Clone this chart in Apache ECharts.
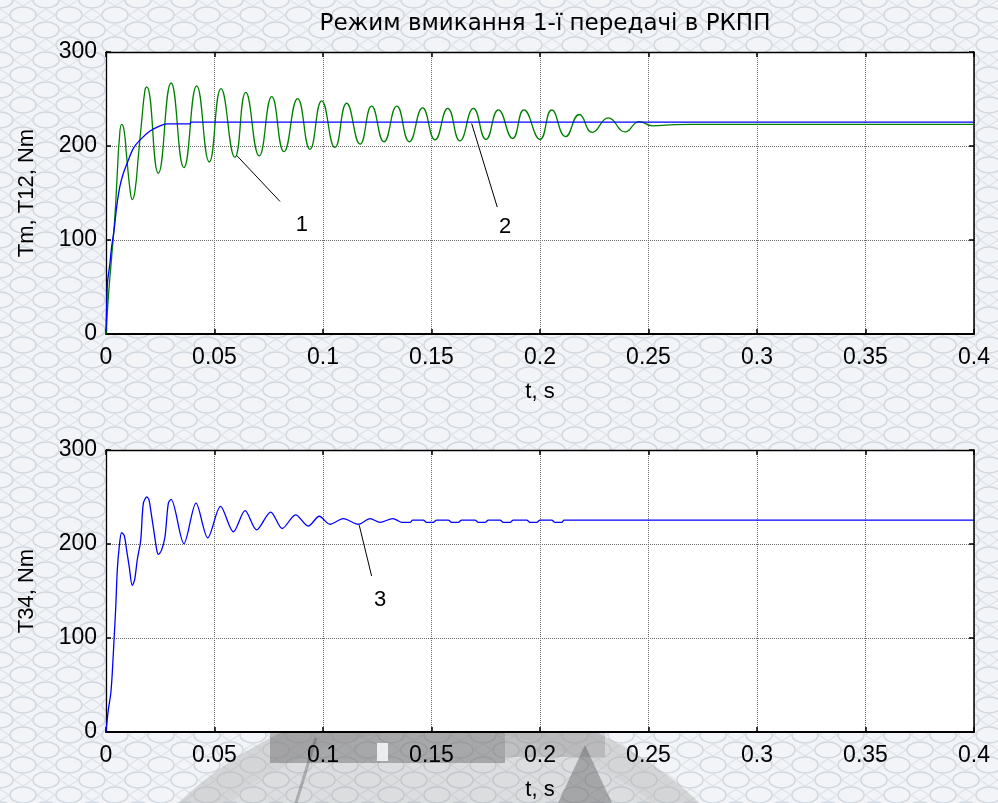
<!DOCTYPE html>
<html>
<head>
<meta charset="utf-8">
<title>Режим вмикання 1-ї передачі в РКПП</title>
<script src="https://cdn.jsdelivr.net/npm/echarts/dist/echarts.min.js"></script>
<style>
  html, body { margin: 0; padding: 0; background: #eef1f4; }
  #chart { width: 998px; height: 803px; }
</style>
</head>
<body>
<div id="chart"></div>
<script>
// Engine torque Tm (curve 1), shaft torque T12 (curve 2), shaft torque T34 (curve 3); time in s, torque in N·m
const tm = [
  [0, 3], [0.0004, 35], [0.0007, 55], [0.0018, 75], [0.0026, 93], [0.0037, 110],
  [0.0049, 135], [0.0064, 157], [0.0080, 171], [0.0103, 185], [0.0126, 197.5],
  [0.0157, 206.5], [0.0203, 216], [0.0249, 221.5], [0.0280, 223.5], [0.0387, 223.5],
  [0.0392, 225.5], [0.4, 225.5]
];

const t12 = [
  [0, 0], [0.0011, 40], [0.0026, 82], [0.0041, 125], [0.0052, 171], [0.0061, 206],
  [0.0072, 223], [0.0083, 217], [0.0095, 189], [0.0111, 153], [0.0121, 143],
  [0.0134, 153], [0.0149, 189], [0.0165, 228], [0.0180, 260], [0.0188, 263],
  [0.0241, 171], [0.0300, 267], [0.0359, 177], [0.0418, 264], [0.0476, 183],
  [0.0530, 261], [0.0594, 188], [0.0644, 257], [0.0706, 189.5], [0.0764, 252.5],
  [0.0820, 194], [0.0883, 250.5], [0.0940, 196.5], [0.0994, 248], [0.1055, 198.5],
  [0.1109, 245.5], [0.1171, 202], [0.1224, 242.5], [0.1281, 204.5], [0.1340, 242.5],
  [0.1398, 204.5], [0.1459, 240.5], [0.1516, 206.5], [0.1575, 240], [0.1631, 205.5],
  [0.1693, 240], [0.1751, 207], [0.1808, 238.5], [0.1874, 208], [0.1926, 238.5],
  [0.2000, 207], [0.2054, 238.5], [0.2118, 210], [0.2181, 233.5], [0.2241, 214.5],
  [0.2315, 230], [0.2392, 215], [0.2458, 226], [0.2519, 221.5], [0.2600, 222.5],
  [0.2700, 223], [0.4, 223]
];

const t34 = [
  [0, 0.5], [0.0011, 24], [0.0022, 41], [0.0029, 63], [0.0037, 98], [0.0045, 133],
  [0.0052, 172], [0.0061, 197], [0.0072, 212], [0.0084, 209], [0.0095, 193.5],
  [0.0107, 176], [0.0121, 156], [0.0132, 162], [0.0144, 183], [0.0160, 204],
  [0.0172, 243], [0.0188, 250], [0.0198, 247], [0.0206, 236], [0.0218, 218],
  [0.0234, 193.5], [0.0241, 189], [0.0256, 193.5], [0.0272, 208], [0.0287, 243],
  [0.0300, 247.5], [0.0359, 200.5], [0.0415, 243.5], [0.0469, 206.5], [0.0528, 240],
  [0.0587, 213], [0.0641, 235.5], [0.0694, 215], [0.0759, 234], [0.0812, 216.5],
  [0.0874, 231], [0.0932, 219], [0.0983, 229.5], [0.1032, 221], [0.1094, 227],
  [0.1163, 221], [0.1217, 227], [0.1263, 223], [0.1321, 227], [0.1340, 225.4],
  [0.1363, 223], [0.1401, 223], [0.1413, 225.4], [0.1462, 225.4], [0.1478, 223],
  [0.1508, 223], [0.1524, 225.4], [0.1577, 225.4], [0.1593, 223], [0.1623, 223],
  [0.1639, 225.4], [0.1700, 225.4], [0.1716, 223], [0.1747, 223], [0.1762, 225.4],
  [0.1816, 225.4], [0.1831, 223], [0.1862, 223], [0.1877, 225.4], [0.1939, 225.4],
  [0.1954, 223], [0.1985, 223], [0.2000, 225.4], [0.2054, 225.4], [0.2069, 223],
  [0.2100, 223], [0.2111, 225.4], [0.4, 225.4]
];

// Tick labels
const xTickLabels = ['0', '0.05', '0.1', '0.15', '0.2', '0.25', '0.3', '0.35', '0.4'];
const yTickLabels = ['0', '100', '200', '300'];

// Numbered callouts: leader start (on curve), leader end, label position — in axis units
const callout1 = { from: [0.0602, 190], to: [0.0802, 141], text: [0.0903, 116], label: '1' };
const callout2 = { from: [0.1685, 224], to: [0.1803, 135], text: [0.1839, 114], label: '2' };
const callout3 = { from: [0.1167, 220], to: [0.1224, 166], text: [0.1263, 140], label: '3' };

const TITLE = 'Режим вмикання 1-ї передачі в РКПП';
const SANS = '"Liberation Sans", Arial, sans-serif';
const TITLE_FONT = '"DejaVu Sans", Tahoma, sans-serif';

// Light ornamental page background
function makePattern() {
  const c = document.createElement('canvas');
  c.width = 46; c.height = 30;
  const g = c.getContext('2d');
  g.fillStyle = '#f2f4f7';
  g.fillRect(0, 0, c.width, c.height);
  g.strokeStyle = '#d2d8df';
  g.lineWidth = 1.6;
  const ell = (x, y) => {
    g.beginPath();
    g.ellipse(x, y, 13, 8, 0, 0, Math.PI * 2);
    g.stroke();
  };
  [[0, 0], [46, 0], [0, 30], [46, 30], [23, 15]].forEach(p => ell(p[0], p[1]));
  g.strokeStyle = '#dde2e8';
  g.lineWidth = 1.1;
  const dia = (x, y) => {
    g.beginPath();
    g.moveTo(x - 9, y); g.lineTo(x, y - 6); g.lineTo(x + 9, y); g.lineTo(x, y + 6); g.closePath();
    g.stroke();
  };
  [[23, 0], [23, 30], [0, 15], [46, 15]].forEach(p => dia(p[0], p[1]));
  return c;
}

// Faint emblem printed on the page under the lower plot
const emblem = [
  { type: 'circle', shape: { cx: 439, cy: 1074, r: 345 }, style: { fill: 'rgba(150,150,150,0.25)' }, z: -10, silent: true },
  { type: 'ring', shape: { cx: 439, cy: 1074, r: 376, r0: 345 }, style: { fill: 'rgba(175,175,175,0.45)' }, z: -10, silent: true },
  { type: 'rect', shape: { x: 270, y: 733, width: 235, height: 30 }, style: { fill: 'rgba(95,95,95,0.42)' }, z: -9, silent: true },
  { type: 'rect', shape: { x: 505, y: 733, width: 100, height: 24 }, style: { fill: 'rgba(120,120,120,0.28)' }, z: -9, silent: true },
  { type: 'rect', shape: { x: 377, y: 743, width: 11, height: 18 }, style: { fill: 'rgba(255,255,255,0.8)' }, z: -8, silent: true },
  { type: 'polygon', shape: { points: [[585, 745], [612, 803], [558, 803]] }, style: { fill: 'rgba(90,90,90,0.42)' }, z: -8, silent: true },
  { type: 'line', shape: { x1: 296, y1: 803, x2: 316, y2: 738 }, style: { stroke: 'rgba(80,80,80,0.35)', lineWidth: 3 }, z: -8, silent: true }
];

const chart = echarts.init(document.getElementById('chart'), null, { renderer: 'canvas' });

const grids = [
  { left: 106, top: 52, width: 868, height: 282, backgroundColor: '#ffffff', show: true, borderWidth: 0 },
  { left: 106, top: 450, width: 868, height: 282, backgroundColor: '#ffffff', show: true, borderWidth: 0 }
];

function mainX(gi) {
  return {
    type: 'value', gridIndex: gi, min: 0, max: 0.4, interval: 0.05,
    name: 't, s', nameLocation: 'middle', nameGap: 47,
    nameTextStyle: { fontFamily: SANS, fontSize: 22, color: '#000' },
    axisLine: { show: true, onZero: false, lineStyle: { color: '#000', width: 2 } },
    axisTick: { show: true, inside: true, length: 5, lineStyle: { color: '#000', width: 1.5 } },
    axisLabel: {
      show: true, margin: 12, fontFamily: SANS, fontSize: 23, color: '#000',
      showMinLabel: true, showMaxLabel: true,
      formatter: (v, i) => xTickLabels[i]
    },
    splitLine: { show: true, lineStyle: { color: '#6a6a6a', width: 1, type: [1, 1] } }
  };
}
function topX(gi) {
  return {
    type: 'value', gridIndex: gi, position: 'top', min: 0, max: 0.4, interval: 0.05,
    axisLine: { show: true, onZero: false, lineStyle: { color: '#000', width: 1.3 } },
    axisTick: { show: true, inside: true, length: 5, lineStyle: { color: '#000', width: 1.5 } },
    axisLabel: { show: false }, splitLine: { show: false }
  };
}
function mainY(gi, name) {
  return {
    type: 'value', gridIndex: gi, min: 0, max: 300, interval: 100,
    name: name, nameLocation: 'middle', nameGap: 68,
    nameTextStyle: { fontFamily: SANS, fontSize: 22, color: '#000' },
    axisLine: { show: true, onZero: false, lineStyle: { color: '#000', width: 1.3 } },
    axisTick: { show: true, inside: true, length: 5, lineStyle: { color: '#000', width: 1.5 } },
    axisLabel: {
      show: true, margin: 9, fontFamily: SANS, fontSize: 23, color: '#000',
      showMinLabel: true, showMaxLabel: true,
      formatter: (v, i) => yTickLabels[i]
    },
    splitLine: { show: true, lineStyle: { color: '#6a6a6a', width: 1, type: [1, 1] } }
  };
}
function rightY(gi) {
  return {
    type: 'value', gridIndex: gi, position: 'right', min: 0, max: 300, interval: 100,
    axisLine: { show: true, onZero: false, lineStyle: { color: '#000', width: 1.5 } },
    axisTick: { show: true, inside: true, length: 5, lineStyle: { color: '#000', width: 1.5 } },
    axisLabel: { show: false }, splitLine: { show: false }
  };
}

function callout(c, xi, yi) {
  return {
    type: 'line', xAxisIndex: xi, yAxisIndex: yi, data: [], silent: true,
    markLine: {
      silent: true, symbol: ['none', 'none'], animation: false,
      lineStyle: { color: '#000', width: 1, type: 'solid' },
      label: { show: false },
      data: [[{ coord: c.from }, { coord: c.to }]]
    },
    markPoint: {
      silent: true, animation: false, symbol: 'circle', symbolSize: 1,
      itemStyle: { color: 'rgba(0,0,0,0)' },
      label: { show: true, position: 'inside', formatter: c.label, color: '#000', fontFamily: SANS, fontSize: 22 },
      data: [{ coord: c.text }]
    }
  };
}

const option = {
  animation: false,
  backgroundColor: { image: makePattern(), repeat: 'repeat' },
  graphic: emblem,
  title: {
    text: TITLE, left: 540, top: 8, textAlign: 'center',
    textStyle: { fontFamily: TITLE_FONT, fontSize: 23, fontWeight: 'normal', color: '#000' }
  },
  grid: grids,
  xAxis: [mainX(0), topX(0), mainX(1), topX(1)],
  yAxis: [mainY(0, 'Tm, T12, Nm'), rightY(0), mainY(1, 'T34, Nm'), rightY(1)],
  series: [
    {
      name: 'T12', type: 'line', xAxisIndex: 0, yAxisIndex: 0, data: t12,
      showSymbol: false, smooth: 0.5, lineStyle: { color: '#008000', width: 1.3 }, z: 2
    },
    {
      name: 'Tm', type: 'line', xAxisIndex: 0, yAxisIndex: 0, data: tm,
      showSymbol: false, smooth: 0.3, lineStyle: { color: '#0000ff', width: 1.3 }, z: 3
    },
    {
      name: 'T34', type: 'line', xAxisIndex: 2, yAxisIndex: 2, data: t34,
      showSymbol: false, smooth: 0.3, lineStyle: { color: '#0000ff', width: 1.3 }, z: 3
    },
    callout(callout1, 0, 0),
    callout(callout2, 0, 0),
    callout(callout3, 2, 2)
  ]
};

chart.setOption(option);
</script>
</body>
</html>
